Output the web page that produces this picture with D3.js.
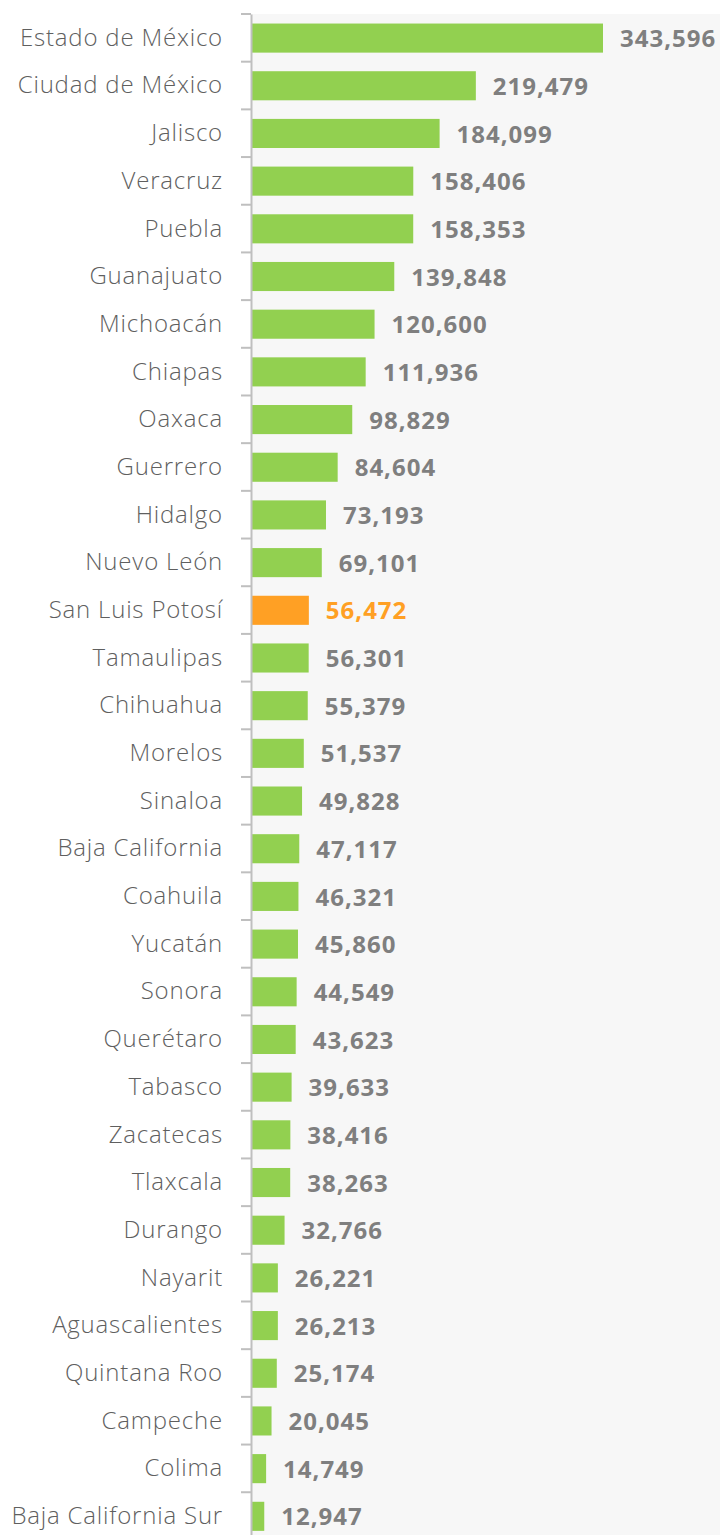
<!DOCTYPE html>
<html>
<head>
<meta charset="utf-8">
<script src="https://cdn.jsdelivr.net/npm/d3@7"></script>
<style>
  body { margin: 0; background: #fff; }
  #chart text { font-family: "Open Sans", sans-serif; }
</style>
</head>
<body>
<div id="chart"></div>
<script>
const states = ["Estado de México", "Ciudad de México", "Jalisco", "Veracruz", "Puebla",
  "Guanajuato", "Michoacán", "Chiapas", "Oaxaca", "Guerrero", "Hidalgo", "Nuevo León",
  "San Luis Potosí", "Tamaulipas", "Chihuahua", "Morelos", "Sinaloa", "Baja California",
  "Coahuila", "Yucatán", "Sonora", "Querétaro", "Tabasco", "Zacatecas", "Tlaxcala",
  "Durango", "Nayarit", "Aguascalientes", "Quintana Roo", "Campeche", "Colima",
  "Baja California Sur"];
const values = [343596, 219479, 184099, 158406, 158353, 139848, 120600, 111936, 98829,
  84604, 73193, 69101, 56472, 56301, 55379, 51537, 49828, 47117, 46321, 45860, 44549,
  43623, 39633, 38416, 38263, 32766, 26221, 26213, 25174, 20045, 14749, 12947];
const highlight = "San Luis Potosí";

const data = states.map((s, i) => ({state: s, value: values[i]}));

const W = 720, H = 1535;
const margin = {top: 14, right: 0, bottom: 0, left: 251};
const width = W - margin.left - margin.right;
const height = 32 * 47.7;

const svg = d3.select("#chart").append("svg")
  .attr("width", W).attr("height", H);

const g = svg.append("g")
  .attr("transform", `translate(${margin.left},${margin.top})`);

g.append("rect")
  .attr("width", width).attr("height", height)
  .attr("fill", "#f7f7f7");

const x = d3.scaleLinear().domain([0, 343596]).range([0, 352]);
const y = d3.scaleBand().domain(states).range([0, height]).paddingInner(0.39).paddingOuter(0.2);

g.selectAll(".bar").data(data).join("rect")
  .attr("x", 0)
  .attr("y", d => y(d.state))
  .attr("width", d => x(d.value))
  .attr("height", y.bandwidth())
  .attr("fill", d => d.state === highlight ? "#ffa024" : "#92d050");

g.selectAll(".val").data(data).join("text")
  .attr("x", d => x(d.value) + 17)
  .attr("y", d => y(d.state) + y.bandwidth() / 2)
  .attr("dy", "0.38em")
  .attr("font-size", "24px")
  .attr("font-weight", "bold")
  .attr("letter-spacing", "1px")
  .attr("fill", d => d.state === highlight ? "#ffa024" : "#7f7f7f")
  .text(d => d3.format(",")(d.value));

// category axis, ticks sit between the bands
const yAxis = d3.axisLeft(y).tickSize(0).tickPadding(28);
const ax = g.append("g").call(yAxis);
ax.select(".domain").attr("stroke", "#bfbfbf").attr("stroke-width", 2);
ax.selectAll("text")
  .attr("font-size", "24px")
  .attr("font-weight", 300)
  .attr("letter-spacing", "0.8px")
  .attr("fill", "#5f5f5f")
  .style("font-family", "'Open Sans', sans-serif");

const step = y.step();
g.selectAll(".tk").data(d3.range(states.length + 1)).join("line")
  .attr("x1", -10).attr("x2", 0)
  .attr("y1", i => i * step).attr("y2", i => i * step)
  .attr("stroke", "#bfbfbf").attr("stroke-width", 2);
</script>
</body>
</html>
